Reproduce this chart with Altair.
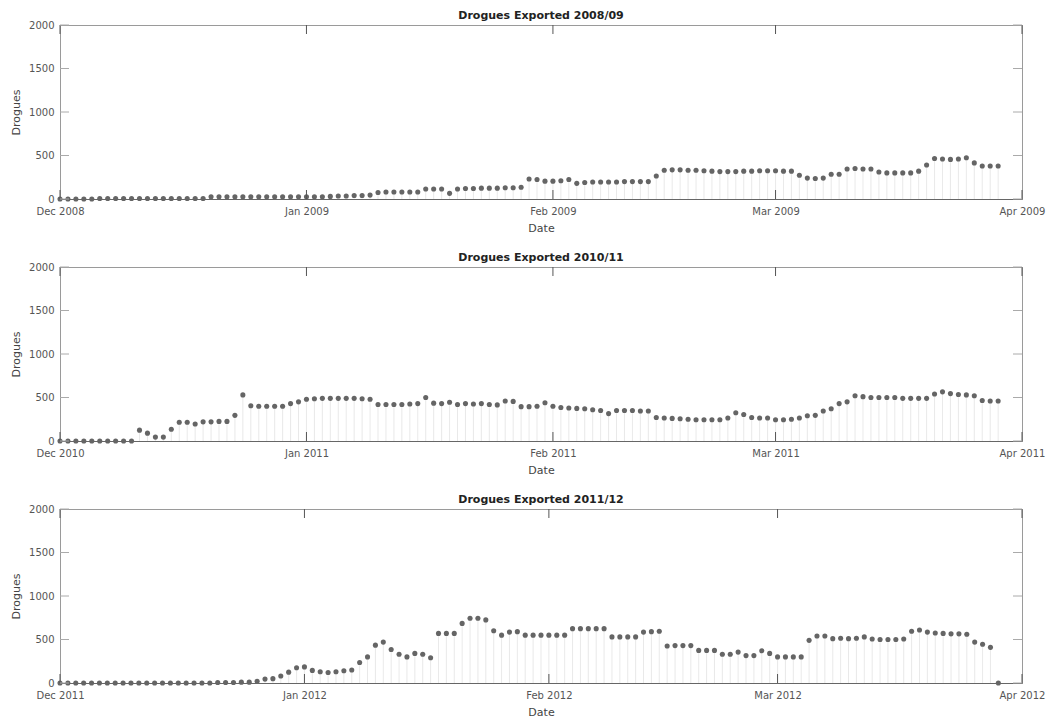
import altair as alt
import pandas as pd

titles = ["Drogues Exported 2008/09", "Drogues Exported 2010/11", "Drogues Exported 2011/12"]
start_dates = ["2008-12-01", "2010-12-01", "2011-12-01"]
end_dates = ["2009-04-01", "2011-04-01", "2012-04-01"]
month_ticks = [
    ["2008-12-01", "2009-01-01", "2009-02-01", "2009-03-01", "2009-04-01"],
    ["2010-12-01", "2011-01-01", "2011-02-01", "2011-03-01", "2011-04-01"],
    ["2011-12-01", "2012-01-01", "2012-02-01", "2012-03-01", "2012-04-01"],
]
y_ticks = [0, 500, 1000, 1500, 2000]

# daily drogue counts, one value per day starting at the season's start date
drogues_0809 = [
    0, 0, 0, 0, 0, 5, 5, 5, 5, 5, 5, 5, 5, 5, 5, 5, 5, 5, 5,
    25, 25, 25, 25, 25, 25, 25, 25, 25, 25, 25, 25, 25, 25, 25,
    30, 35, 35, 40, 40, 45,
    75, 80, 80, 80, 80, 80,
    115, 115, 115,
    65,
    115, 120, 120, 125, 125, 125, 130, 130, 135,
    230, 225,
    205, 205, 210,
    225,
    180,
    190, 195, 195, 195, 195, 200, 200, 200, 200,
    265,
    330, 335, 335, 330, 330, 325, 320, 315, 315, 315, 320, 320, 325, 325, 325, 320, 320,
    273,
    240, 235, 240,
    285, 285,
    345, 350, 345, 345,
    310, 300, 300, 300, 300,
    320,
    390,
    465, 460, 455, 460,
    475,
    415,
    380, 380, 380,
]

drogues_1011 = [
    0, 0, 0, 0, 0, 0, 0, 0, 0, 0,
    125, 90, 45, 45, 135, 215, 215, 195,
    220, 220, 225, 225,
    295, 530,
    405, 400, 400, 400, 400,
    430, 450,
    480, 485, 490, 490, 490, 490, 490, 485, 480,
    420, 420, 420, 420, 425, 430,
    500,
    435, 430, 445,
    420, 430, 425, 430, 420, 415,
    460, 455,
    395, 395, 400,
    440, 400,
    385, 380, 375, 370, 360, 350,
    315,
    350, 350, 350, 345, 345,
    270, 265, 260, 255, 250,
    245, 245, 245, 245,
    265, 325, 305,
    270, 265, 265,
    245, 245, 250,
    265,
    290, 295,
    345, 370, 430, 450, 520,
    510, 500, 500, 500, 500, 490, 490, 490,
    490, 540, 565,
    545, 535, 530, 520,
    465, 460, 460,
]

drogues_1112 = [
    0, 0, 0, 0, 0, 0, 0, 0, 0, 0, 0, 0, 0, 0, 0, 0, 0, 0, 0, 0,
    5, 5, 5, 10, 10,
    20, 45, 50, 80, 125, 175, 185, 145, 130, 120, 130, 140, 150,
    235, 300, 435, 470, 385, 330, 300, 340, 330, 290,
    570, 570, 570,
    685, 745, 745, 725, 600, 550, 585, 590,
    550, 550, 550, 550, 550, 550,
    625, 625, 625, 625, 625,
    530, 530, 530, 530,
    585, 590, 595,
    425, 430, 430, 430,
    375, 375, 375,
    330, 330, 355, 315, 315, 370, 340,
    300, 300, 300, 300,
    490, 540, 540,
    510, 515, 510, 515,
    530,
    505, 500, 500, 500, 505,
    595, 610,
    585, 575, 570, 565, 565, 560,
    470, 445, 410,
    0,
]

series = [drogues_0809, drogues_1011, drogues_1112]

W, H = 962, 174
FONT = "DejaVu Sans"


def dt(s):
    y, m, d = (int(p) for p in s.split("-"))
    return alt.DateTime(year=y, month=m, date=d, utc=True)


def panel(values, start, end, title, months):
    dates = pd.date_range(start, periods=len(values), freq="D").strftime("%Y-%m-%d")
    df = pd.DataFrame({"date": list(dates), "drogues": values})
    tdf = pd.DataFrame({"m": months})
    ydf = pd.DataFrame({"t": y_ticks})
    xs = alt.Scale(type="utc", domain=[dt(start), dt(end)])
    ys = alt.Scale(domain=[0, 2000], nice=False)
    xaxis = alt.Axis(values=[dt(m) for m in months], format="%b %Y",
                     labelFlush=False, labelAlign="center")
    yaxis = alt.Axis(values=y_ticks, format="d")
    xenc = alt.X("date:T", scale=xs, title="Date", axis=xaxis)
    yenc = alt.Y("drogues:Q", scale=ys, title="Drogues", axis=yaxis)
    base = alt.Chart(df)
    stems = base.mark_rule(color="#e0e0e0", strokeWidth=0.7).encode(
        x=xenc, y=yenc, y2=alt.datum(0)
    )
    pts = base.mark_circle(size=26, color="#656565", opacity=1).encode(x=xenc, y=yenc)
    tx = alt.X("m:T", scale=xs, title="Date", axis=xaxis)
    ty = alt.Y("t:Q", scale=ys, title="Drogues", axis=yaxis)
    xt_b = alt.Chart(tdf).mark_rule(color="#555555", strokeWidth=1).encode(
        x=tx, y=alt.value(H), y2=alt.value(H - 9)
    )
    xt_t = alt.Chart(tdf).mark_rule(color="#555555", strokeWidth=1).encode(
        x=tx, y=alt.value(0), y2=alt.value(9)
    )
    yt_l = alt.Chart(ydf).mark_rule(color="#aaaaaa", strokeWidth=1).encode(
        y=ty, x=alt.value(0), x2=alt.value(9)
    )
    yt_r = alt.Chart(ydf).mark_rule(color="#aaaaaa", strokeWidth=1).encode(
        y=ty, x=alt.value(W), x2=alt.value(W - 9)
    )
    return alt.layer(stems, pts, xt_b, xt_t, yt_l, yt_r).properties(
        width=W,
        height=H,
        title=alt.TitleParams(
            title, fontSize=11, font=FONT, fontWeight="bold", color="#222222",
            anchor="middle", frame="group", offset=-1,
        ),
    )


panels = [
    panel(series[i], start_dates[i], end_dates[i], titles[i], month_ticks[i])
    for i in range(3)
]

chart = (
    alt.vconcat(*panels, spacing=17)
    .properties(padding={"left": 10, "top": 9, "right": 10, "bottom": 2}, background="white")
    .configure_view(stroke="#9a9a9a", strokeWidth=1)
    .configure_axis(
        labelFont=FONT, labelFontSize=10, labelColor="#555555",
        titleFont=FONT, titleFontSize=11, titleFontWeight="normal", titleColor="#444444",
        ticks=False, grid=False, domain=False,
    )
    .configure_axisX(labelPadding=7, titlePadding=6, domain=True, domainColor="#666666")
    .configure_axisY(labelPadding=6, titlePadding=7)
)

chart.save("out.html", embed_options={"renderer": "svg", "actions": False})
